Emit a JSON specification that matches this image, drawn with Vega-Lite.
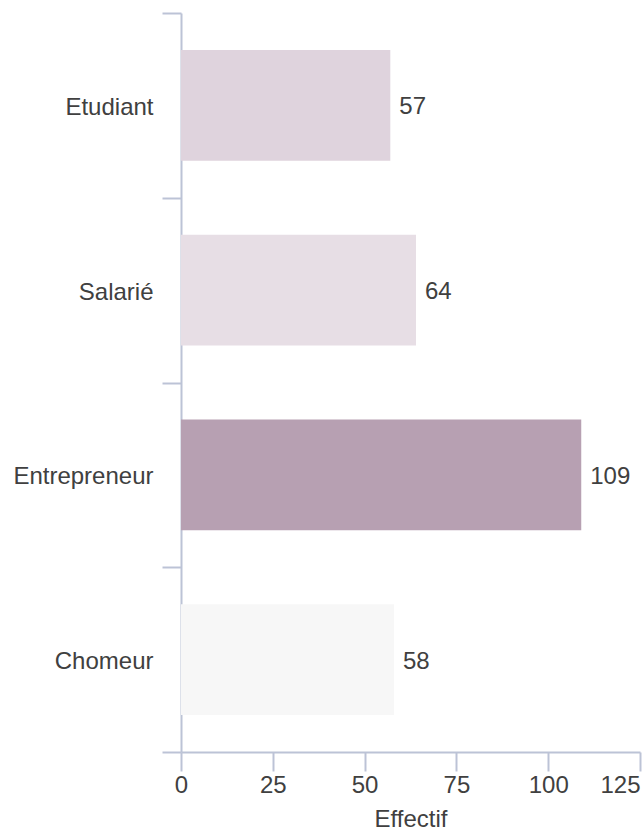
{
  "$schema": "https://vega.github.io/schema/vega-lite/v6.json",
  "width": 459,
  "height": 739,
  "autosize": {"type": "none"},
  "padding": {"left": 181, "top": 13, "right": 4, "bottom": 79},
  "config": {
    "view": {"stroke": null},
    "font": "Liberation Sans",
    "axis": {
      "domainColor": "#bcc3d6",
      "tickColor": "#bcc3d6",
      "domainWidth": 2,
      "tickWidth": 2,
      "tickSize": 19,
      "labelFontSize": 24,
      "labelColor": "#404040",
      "titleFontSize": 24,
      "titleColor": "#404040",
      "titleFontWeight": "normal",
      "grid": false
    }
  },
  "data": {
    "values": [
      {"statut": "Etudiant", "effectif": 57},
      {"statut": "Salarié", "effectif": 64},
      {"statut": "Entrepreneur", "effectif": 109},
      {"statut": "Chomeur", "effectif": 58}
    ]
  },
  "encoding": {
    "y": {
      "field": "statut",
      "type": "nominal",
      "sort": null,
      "scale": {"paddingInner": 0, "paddingOuter": 0},
      "axis": {"title": null, "tickBand": "extent", "labelPadding": 9, "labelOffset": 2}
    },
    "x": {
      "field": "effectif",
      "type": "quantitative",
      "scale": {"domain": [0, 125], "nice": false},
      "axis": {
        "title": "Effectif",
        "values": [0, 25, 50, 75, 100, 125],
        "labelPadding": 2,
        "titlePadding": 10,
        "labelAlign": {"condition": {"test": "datum.value == 125", "value": "right"}, "value": "center"}
      }
    }
  },
  "layer": [
    {
      "mark": {"type": "bar", "height": {"band": 0.6}},
      "encoding": {
        "color": {
          "field": "statut",
          "type": "nominal",
          "scale": {
            "domain": ["Etudiant", "Salarié", "Entrepreneur", "Chomeur"],
            "range": ["#dfd3dd", "#e7dee5", "#b7a0b2", "#f7f7f7"]
          },
          "legend": null
        }
      }
    },
    {
      "mark": {"type": "text", "align": "left", "dx": 9, "dy": 2, "fontSize": 24, "color": "#404040"},
      "encoding": {"text": {"field": "effectif", "type": "quantitative"}}
    }
  ]
}
